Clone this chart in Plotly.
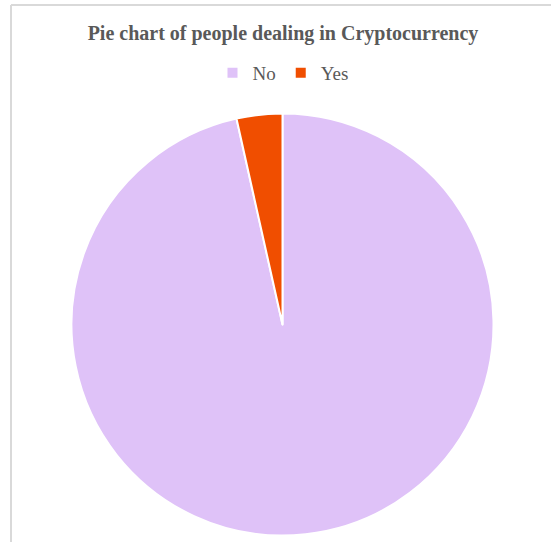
import plotly.graph_objects as go

# Survey answers: share of respondents who deal in cryptocurrency
labels = ["No", "Yes"]
shares = [96.5, 3.5]
colors = ["#DFC2F8", "#F04E00"]

W, H = 551, 542
cx, cy, r = 282.5, 324.5, 211  # pie centre and radius in pixels from top-left

fig = go.Figure(
    go.Pie(
        labels=labels,
        values=shares,
        sort=False,
        direction="clockwise",
        rotation=0,
        textinfo="none",
        marker=dict(colors=colors, line=dict(color="white", width=2)),
        domain=dict(
            x=[(cx - r) / W, (cx + r) / W],
            y=[(H - cy - r) / H, (H - cy + r) / H],
        ),
    )
)

fig.update_layout(
    width=W,
    height=H,
    margin=dict(l=0, r=0, t=0, b=0),
    paper_bgcolor="white",
    plot_bgcolor="white",
    title=dict(
        text="<b>Pie chart of people dealing in Cryptocurrency</b>",
        x=283 / W,
        xanchor="center",
        y=1 - 33 / H,
        yanchor="middle",
        font=dict(family="Liberation Serif", size=20, color="#595959"),
    ),
    legend=dict(
        orientation="h",
        x=283 / W,
        xanchor="center",
        y=1 - 73 / H,
        yanchor="middle",
        font=dict(family="Liberation Serif", size=19, color="#595959"),
        itemwidth=30,
    ),
    shapes=[
        dict(type="line", xref="paper", yref="paper",
             x0=11 / W, x1=1, y0=1 - 5 / H, y1=1 - 5 / H,
             line=dict(color="#D9D9D9", width=2)),
        dict(type="line", xref="paper", yref="paper",
             x0=11 / W, x1=11 / W, y0=0, y1=1 - 5 / H,
             line=dict(color="#D9D9D9", width=2)),
    ],
)

fig.write_html("out.html")
